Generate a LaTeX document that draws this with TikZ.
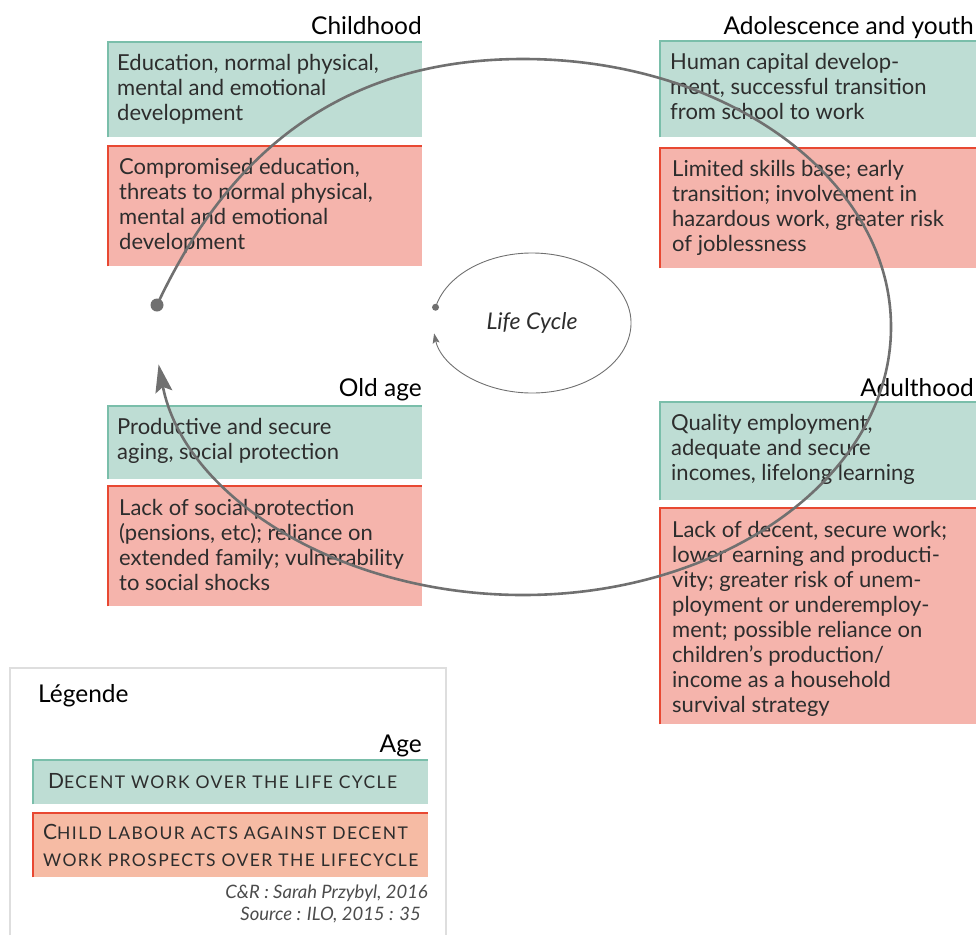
\documentclass[tikz,border=0pt]{standalone}
\usepackage{fontspec}
\setmainfont{Lato}
\usetikzlibrary{arrows.meta}
\definecolor{gfill}{RGB}{190,221,212}
\definecolor{gline}{RGB}{122,190,170}
\definecolor{rfill}{RGB}{245,180,172}
\definecolor{rline}{RGB}{232,72,50}
\definecolor{lrfill}{RGB}{246,187,164}
\definecolor{arcgray}{RGB}{112,112,112}
\definecolor{txt}{RGB}{45,45,45}
\definecolor{legborder}{RGB}{222,222,222}
\newcommand\fsc[2]{{\fontsize{21}{24}\selectfont #1}{\fontsize{17.5}{24}\selectfont\addfontfeatures{LetterSpace=8}#2}}
\tikzset{
  gbox/.style={rectangle, fill=gfill, inner sep=0pt, anchor=north west},
  rbox/.style={rectangle, fill=rfill, inner sep=0pt, anchor=north west},
  btext/.style={anchor=west, align=left, inner sep=0pt, text=txt, font=\fontsize{22}{25}\selectfont},
  ttl/.style={anchor=base east, inner sep=0pt, text=black, font=\fontsize{24.5}{28}\selectfont},
  gedge/.style={draw=gline, line width=2.2pt},
  redge/.style={draw=rline, line width=2.2pt},
  bigarc/.style={draw=arcgray, line width=2.6pt, -{Stealth[length=28pt, width=17pt, inset=5pt]}},
  smallarc/.style={draw=arcgray, line width=0.9pt, -{Stealth[length=10pt, width=7pt, inset=2pt]}},
}
\begin{document}
\begin{tikzpicture}[x=1pt, y=-1pt]
\useasboundingbox (0,0) rectangle (976,935);

% ---------- Childhood ----------
\node[ttl] (tchild) at (422,34) {Childhood};
\node[gbox, minimum width=314pt, minimum height=95pt] (cg) at (108,42) {};
\draw[gedge] (cg.south west) -- (cg.north west) -- (cg.north east);
\node[btext] (cgt) at ([xshift=9pt]cg.west) {Education, normal physical,\\mental and emotional\\development};
\node[rbox, minimum width=314pt, minimum height=120pt] (cr) at (108,146) {};
\draw[redge] (cr.south west) -- (cr.north west) -- (cr.north east);
\node[btext] (crt) at ([xshift=11pt]cr.west) {Compromised education,\\threats to normal physical,\\mental and emotional\\development};

% ---------- Adolescence ----------
\node[ttl] (tado) at (974,34) {Adolescence and youth};
\node[gbox, minimum width=316pt, minimum height=96pt] (ag) at (660,41) {};
\draw[gedge] (ag.south west) -- (ag.north west) -- (ag.north east);
\node[btext] (agt) at ([xshift=10pt,yshift=3pt]ag.west) {Human capital develop-\\ment, successful transition\\from school to work};
\node[rbox, minimum width=316pt, minimum height=120pt] (ar) at (660,148) {};
\draw[redge] (ar.south west) -- (ar.north west) -- (ar.north east);
\node[btext] (art) at ([xshift=12pt]ar.west) {Limited skills base; early\\transition; involvement in\\hazardous work, greater risk\\of joblessness};

% ---------- Old age ----------
\node[ttl] (told) at (422,396) {Old age};
\node[gbox, minimum width=314pt, minimum height=73pt] (og) at (108,406) {};
\draw[gedge] (og.south west) -- (og.north west) -- (og.north east);
\node[btext] (ogt) at ([xshift=9pt,yshift=2pt]og.west) {Productive and secure\\aging, social protection};
\node[rbox, minimum width=314pt, minimum height=120pt] (or) at (108,486) {};
\draw[redge] (or.south west) -- (or.north west) -- (or.north east);
\node[btext] (ort) at ([xshift=11pt,yshift=1pt]or.west) {Lack of social protection\\(pensions, etc); reliance on\\extended family; vulnerability\\to social shocks};

% ---------- Adulthood ----------
\node[ttl] (tadu) at (974,396) {Adulthood};
\node[gbox, minimum width=316pt, minimum height=98pt] (dg) at (660,402) {};
\draw[gedge] (dg.south west) -- (dg.north west) -- (dg.north east);
\node[btext] (dgt) at ([xshift=11pt,yshift=2pt]dg.west) {Quality employment,\\adequate and secure\\incomes, lifelong learning};
\node[rbox, minimum width=316pt, minimum height=216pt] (dr) at (660,508) {};
\draw[redge] (dr.south west) -- (dr.north west) -- (dr.north east);
\node[btext] (drt) at ([xshift=12pt,yshift=-3pt]dr.west) {Lack of decent, secure work;\\lower earning and producti-\\vity; greater risk of unem-\\ployment or underemploy-\\ment; possible reliance on\\children's production/\\income as a household\\survival strategy};

% ---------- Big cycle arc ----------
\coordinate (bdot) at (157,305);
\coordinate (btop) at (523,59);
\draw[bigarc] (bdot) .. controls (219,173) and (323,59) .. (btop)
  arc[start angle=270, end angle=532, x radius=368, y radius=268];
\fill[arcgray] (bdot) circle (6.5);

% ---------- Small Life Cycle ----------
\coordinate (smc) at (532,323);
\path (smc) ++(193:99 and 70) coordinate (sdot);
\draw[smallarc] (sdot) arc[start angle=193, end angle=531.5, x radius=99, y radius=70];
\fill[arcgray] (sdot) circle (3.5);
\node[text=txt, font=\fontsize{23}{26}\selectfont\itshape] (lc) at (smc) {Life Cycle};

% ---------- Legend ----------
\draw[legborder, line width=2pt] (10,935) -- (10,668) -- (446,668) -- (446,935);
\node[anchor=base west, inner sep=0pt, font=\fontsize{24.5}{28}\selectfont] (leg) at (38,702) {Légende};
\node[ttl] (tage) at (422,752) {Age};
\node[gbox, minimum width=395pt, minimum height=44pt] (lg) at (33,760) {};
\draw[gedge] (lg.south west) -- (lg.north west) -- (lg.north east);
\node[btext] (lgt) at ([xshift=15pt,yshift=1pt]lg.west) {\fsc{D}{ECENT WORK OVER THE LIFE CYCLE}};
\node[rectangle, fill=lrfill, inner sep=0pt, anchor=north west, minimum width=395pt, minimum height=64pt] (lr) at (33,813) {};
\draw[redge] (lr.south west) -- (lr.north west) -- (lr.north east);
\node[btext, font=\fontsize{20}{27}\selectfont] (lrt) at ([xshift=10pt]lr.west) {\fsc{C}{HILD LABOUR ACTS AGAINST DECENT}\\\fsc{}{WORK PROSPECTS OVER THE LIFECYCLE}};
\node[anchor=base east, inner sep=0pt, text=txt!85, font=\fontsize{18.5}{22}\selectfont\itshape] (cr1) at (428,898) {C\&R : Sarah Przybyl, 2016};
\node[anchor=base east, inner sep=0pt, text=txt!85, font=\fontsize{18.5}{22}\selectfont\itshape] (cr2) at (421,920) {Source : ILO, 2015 : 35};
\end{tikzpicture}
\end{document}
